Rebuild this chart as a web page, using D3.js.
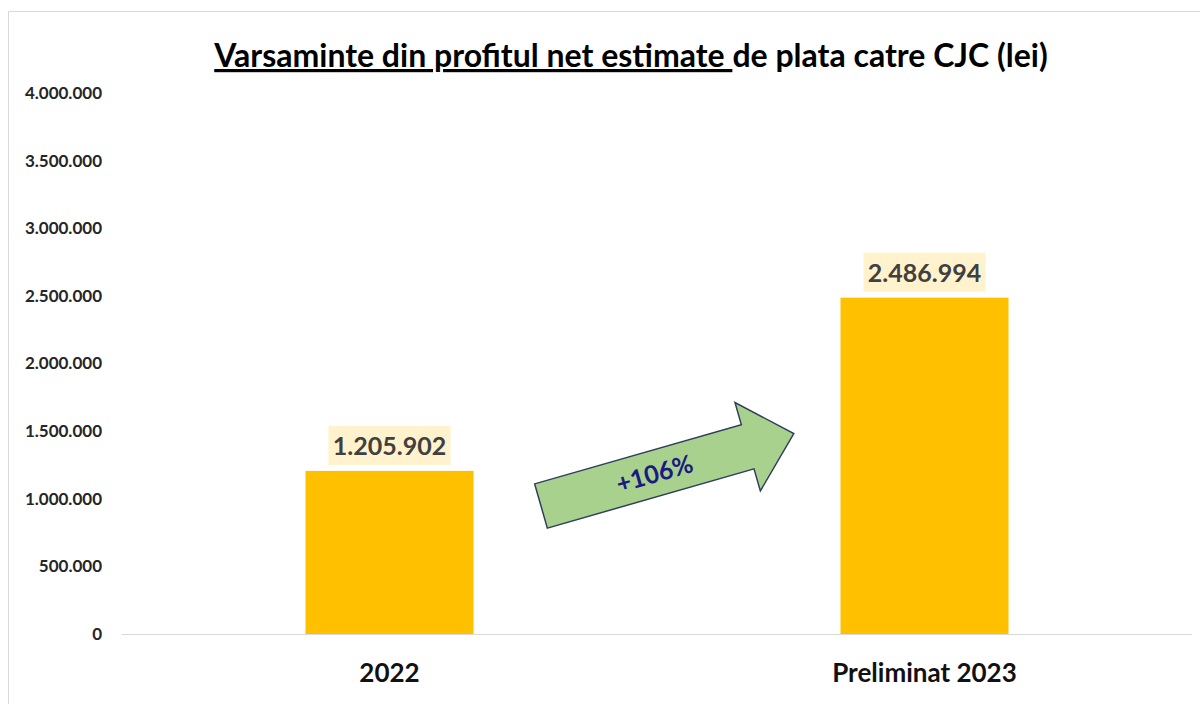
<!DOCTYPE html>
<html>
<head>
<meta charset="utf-8">
<script src="https://cdn.jsdelivr.net/npm/d3@7"></script>
<style>
  body { margin: 0; background: #ffffff; }
  text { font-family: Lato, "Open Sans", sans-serif; }
</style>
</head>
<body>
<script>
// chart data
var categories = ["2022", "Preliminat 2023"];
var values = [1205902, 2486994];
var yTicks = [0, 500000, 1000000, 1500000, 2000000, 2500000, 3000000, 3500000, 4000000];
var titleUnderlined = "Varsaminte din profitul net estimate ";
var titleRest = "de plata catre CJC (lei)";
var growthLabel = "+106%";

var width = 1200, height = 704;
var plot = {left: 122, right: 1192, top: 93, bottom: 634};

var svg = d3.select("body").append("svg")
  .attr("width", width)
  .attr("height", height);

// outer frame
svg.append("path")
  .attr("d", "M8.5," + height + " L8.5,11.5 L" + width + ",11.5")
  .attr("fill", "none")
  .attr("stroke", "#d9d9d9")
  .attr("stroke-width", 1);

var x = d3.scaleBand().domain(categories).range([plot.left, plot.right]).paddingInner(0.686).paddingOuter(0.343);
var y = d3.scaleLinear().domain([0, 4000000]).range([plot.bottom, plot.top]);

var fmt = function(v) { return d3.format(",")(v).replace(/,/g, "."); };

// y axis labels
var yAxis = d3.axisLeft(y).tickValues(yTicks).tickSize(0).tickPadding(20).tickFormat(fmt);
var yg = svg.append("g").attr("transform", "translate(" + plot.left + ",0)").call(yAxis);
yg.select(".domain").remove();
yg.selectAll("text")
  .attr("font-size", 17).attr("font-weight", "bold").attr("fill", "#262626")
  .style("font-family", "Lato, sans-serif");

// baseline
svg.append("line")
  .attr("x1", plot.left).attr("x2", plot.right)
  .attr("y1", y(0) + 0.5).attr("y2", y(0) + 0.5)
  .attr("stroke", "#d9d9d9").attr("stroke-width", 1);

// bars
svg.selectAll("rect.bar").data(values).enter().append("rect")
  .attr("class", "bar")
  .attr("x", function(d, i) { return x(categories[i]); })
  .attr("width", x.bandwidth())
  .attr("y", function(d) { return y(d); })
  .attr("height", function(d) { return y(0) - y(d); })
  .attr("fill", "#ffc000");

// data labels with light background
var lab = svg.selectAll("g.lab").data(values).enter().append("g")
  .attr("class", "lab")
  .attr("transform", function(d, i) {
    return "translate(" + (x(categories[i]) + x.bandwidth() / 2) + "," + (y(d) - 25) + ")";
  });
lab.append("rect")
  .attr("x", -61).attr("y", -20).attr("width", 122).attr("height", 39)
  .attr("fill", "#fff2cc");
lab.append("text")
  .attr("text-anchor", "middle").attr("dy", "0.36em")
  .attr("font-size", 25).attr("font-weight", "bold").attr("fill", "#404040")
  .text(function(d) { return fmt(d); });

// category labels
var xAxis = d3.axisBottom(x).tickSize(0).tickPadding(30);
var xg = svg.append("g").attr("transform", "translate(0," + plot.bottom + ")").call(xAxis);
xg.select(".domain").remove();
xg.selectAll("text")
  .attr("font-size", 26).attr("font-weight", "bold").attr("fill", "#111")
  .style("font-family", "Lato, sans-serif");

// title
var title = svg.append("text")
  .attr("x", 631).attr("y", 67)
  .attr("text-anchor", "middle")
  .attr("font-size", 32).attr("font-weight", "bold").attr("fill", "#000")
  .style("white-space", "pre");
title.append("tspan").attr("text-decoration", "underline").text(titleUnderlined);
title.append("tspan").text(titleRest);

// growth arrow (drawn in its own frame, then rotated)
var arrow = svg.append("g").attr("transform", "translate(541,506) rotate(-16)");
var shaftLen = 215, shaftHalf = 23, headLen = 48, headHalf = 46;
arrow.append("polygon")
  .attr("points", [
    [0, -shaftHalf], [shaftLen, -shaftHalf], [shaftLen, -headHalf], [shaftLen + headLen, 0],
    [shaftLen, headHalf], [shaftLen, shaftHalf], [0, shaftHalf]
  ].map(function(p) { return p.join(","); }).join(" "))
  .attr("fill", "#a9d18e")
  .attr("stroke", "#2f3f5c")
  .attr("stroke-width", 1.5);
arrow.append("text")
  .attr("x", 118).attr("y", 0).attr("dy", "0.36em")
  .attr("text-anchor", "middle")
  .attr("font-size", 25).attr("font-weight", "bold").attr("fill", "#1a1a80")
  .text(growthLabel);
</script>
</body>
</html>
